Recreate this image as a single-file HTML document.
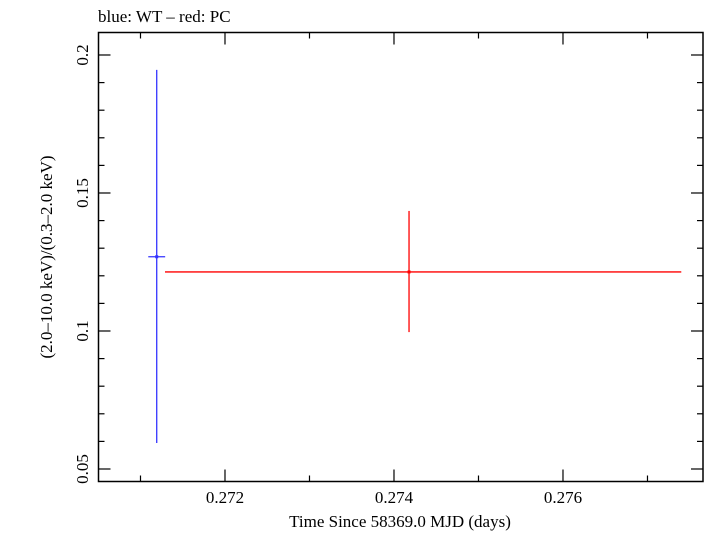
<!DOCTYPE html>
<html><head><meta charset="utf-8"><style>
body{margin:0;background:#fff}
svg text{font-family:"Liberation Serif",serif;fill:#000}
</style></head><body>
<svg width="705" height="532" xmlns="http://www.w3.org/2000/svg">
<text x="98" y="22" font-size="17">blue: WT – red: PC</text>
<rect x="98.5" y="32.5" width="604.5" height="449" fill="none" stroke="#000" stroke-width="1.5"/>
<g id="ticks"></g>
<g id="marks"></g>
<text x="400" y="527" font-size="17" text-anchor="middle">Time Since 58369.0 MJD (days)</text>
<text transform="translate(52,257) rotate(-90)" font-size="17" text-anchor="middle">(2.0–10.0 keV)/(0.3–2.0 keV)</text>
</svg>
<script>
const xTicks=[0.272,0.274,0.276];
const xTickLabels=["0.272","0.274","0.276"];
const xMinor=[0.271,0.273,0.275,0.277];
const yTicks=[0.05,0.1,0.15,0.2];
const yTickLabels=["0.05","0.1","0.15","0.2"];
const seriesNames=["WT","PC"];
const seriesColors=["#3333ff","#ff0000"];
const xVals=[0.271192,0.274178];
const xLo=[0.271092,0.27129];
const xHi=[0.271292,0.27740];
const yVals=[0.1269,0.1214];
const yLo=[0.0594,0.0996];
const yHi=[0.1946,0.1435];
const X0=0.270503,X1=0.277657,Y0=0.04547,Y1=0.20815;
const L=98.5,R=703,T=32.5,B=481.5;
const sx=v=>L+(v-X0)/(X1-X0)*(R-L);
const sy=v=>B-(v-Y0)/(Y1-Y0)*(B-T);
const NS="http://www.w3.org/2000/svg";
const tg=document.getElementById('ticks'),mg=document.getElementById('marks');
function ln(g,x1,y1,x2,y2,c,w){const e=document.createElementNS(NS,'line');e.setAttribute('x1',x1);e.setAttribute('y1',y1);e.setAttribute('x2',x2);e.setAttribute('y2',y2);e.setAttribute('stroke',c);e.setAttribute('stroke-width',w);g.appendChild(e);return e;}
function tx(x,y,s,a,rot){const e=document.createElementNS(NS,'text');e.setAttribute('x',x);e.setAttribute('y',y);e.setAttribute('font-size','17');e.setAttribute('text-anchor',a);if(rot)e.setAttribute('transform',rot);e.textContent=s;tg.appendChild(e);return e;}
xTicks.forEach((v,i)=>{const x=sx(v);
let e=ln(tg,x,B,x,B-12,'#000',1.2);
e=ln(tg,x,T,x,T+12,'#000',1.2);
e=tx(x,503,xTickLabels[i],'middle');});
xMinor.forEach(v=>{const x=sx(v);let e=ln(tg,x,B,x,B-6,'#000',1.2);
e=ln(tg,x,T,x,T+6,'#000',1.2);});
for(let k=5;k<=20;k++){const v=k/100,y=sy(v);const maj=k%5===0;
let e=ln(tg,L,y,L+(maj?12:6),y,'#000',1.2);
e=ln(tg,R,y,R-(maj?12:6),y,'#000',1.2);}
yTicks.forEach((v,i)=>{const y=sy(v);const e=tx(0,0,yTickLabels[i],'middle','translate(88,'+y+') rotate(-90)');});
xVals.forEach((v,i)=>{const c=seriesColors[i];
let e=ln(mg,sx(xLo[i]),sy(yVals[i]),sx(xHi[i]),sy(yVals[i]),c,1.3);
e=ln(mg,sx(v),sy(yLo[i]),sx(v),sy(yHi[i]),c,1.3);
const p=document.createElementNS(NS,'rect');p.setAttribute('x',sx(v)-1.5);p.setAttribute('y',sy(yVals[i])-1.5);p.setAttribute('width',3);p.setAttribute('height',3);p.setAttribute('fill',c);


mg.appendChild(p);});
</script>
</body></html>
